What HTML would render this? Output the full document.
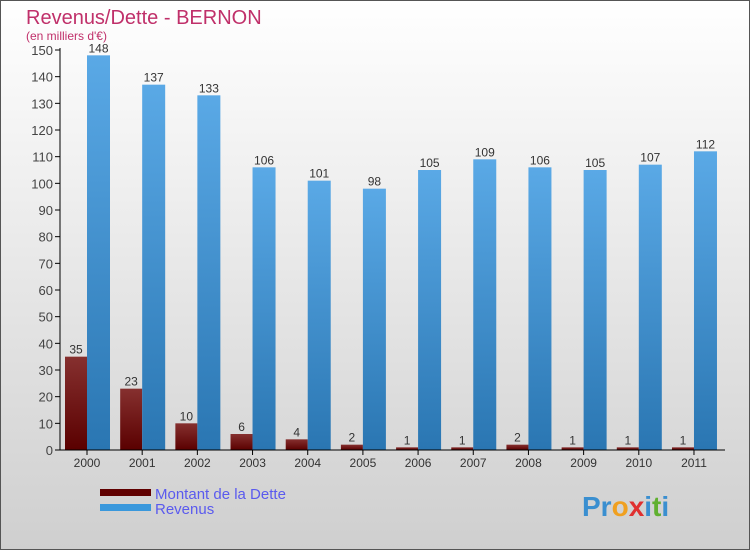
<!DOCTYPE html>
<html><head><meta charset="utf-8"><style>
html,body{margin:0;padding:0;}
body{width:750px;height:550px;overflow:hidden;font-family:"Liberation Sans",sans-serif;}
</style></head><body>
<svg width="750" height="550" xmlns="http://www.w3.org/2000/svg">
<defs>
<linearGradient id="bg" x1="0" y1="0" x2="0" y2="1"><stop offset="0" stop-color="#ffffff"/><stop offset="1" stop-color="#cfcfcf"/></linearGradient>
<linearGradient id="rd" x1="0" y1="0" x2="0" y2="1"><stop offset="0" stop-color="#86302f"/><stop offset="1" stop-color="#5a0000"/></linearGradient>
<linearGradient id="bl" x1="0" y1="0" x2="0" y2="1"><stop offset="0" stop-color="#5aa9e6"/><stop offset="1" stop-color="#2a76b2"/></linearGradient>
</defs>
<rect x="0.5" y="0.5" width="749" height="549" fill="url(#bg)" stroke="#555"/>
<text x="26" y="24" font-size="20" fill="#c0306a">Revenus/Dette - BERNON</text>
<text x="26" y="40" font-size="12" fill="#c0306a">(en milliers d'€)</text>
<g id="plot"></g>
<rect x="100" y="489" width="51" height="7" fill="#600000"/>
<text x="155" y="499" font-size="15" fill="#5a5aee">Montant de la Dette</text>
<rect x="100" y="504" width="51" height="7" fill="#3a98dc"/>
<text x="155" y="514" font-size="15" fill="#5a5aee">Revenus</text>
<text x="582" y="516" font-size="28" font-weight="bold"><tspan fill="#3a8fd0">Pr</tspan><tspan fill="#f0a020">o</tspan><tspan fill="#e03030">x</tspan><tspan fill="#3a8fd0">i</tspan><tspan fill="#60b030">t</tspan><tspan fill="#3a8fd0">i</tspan></text>
</svg>
<script>
const years=["2000","2001","2002","2003","2004","2005","2006","2007","2008","2009","2010","2011"];
const dette=[35,23,10,6,4,2,1,1,2,1,1,1];
const revenus=[148,137,133,106,101,98,105,109,106,105,107,112];
const yTicks=[0,10,20,30,40,50,60,70,80,90,100,110,120,130,140,150];
const NS="http://www.w3.org/2000/svg";
const g=document.getElementById('plot');
const y=v=>450-v*400/150;
const cx=i=>87+i*55.18;
function mk(t,a,txt){const e=document.createElementNS(NS,t);for(const k in a)e.setAttribute(k,a[k]);if(txt!==undefined)e.textContent=txt;g.appendChild(e);return e;}
yTicks.forEach(v=>{
 const l=mk('line',{x1:55,x2:60,y1:y(v),y2:y(v),stroke:'#000'});
 
 
 const t=mk('text',{x:53,y:y(v)+5,'font-size':13,fill:'#444','text-anchor':'end'},v);
 
 
});
years.forEach((yr,i)=>{
 const c=cx(i);
 const d=mk('rect',{x:c-22,y:y(dette[i]),width:22,height:450-y(dette[i]),fill:'url(#rd)'});
 
 
 const r=mk('rect',{x:c,y:y(revenus[i]),width:23,height:450-y(revenus[i]),fill:'url(#bl)'});
 
 
 const dl=mk('text',{x:c-11,y:y(dette[i])-3,'font-size':12,fill:'#333','text-anchor':'middle'},dette[i]);
 
 
 const rl=mk('text',{x:c+11.5,y:y(revenus[i])-3,'font-size':12,fill:'#333','text-anchor':'middle'},revenus[i]);
 
 
 const tk=mk('line',{x1:c,x2:c,y1:450,y2:455,stroke:'#000'});
 
 
 const xl=mk('text',{x:c,y:467,'font-size':12,fill:'#333','text-anchor':'middle'},yr);
 
 
});
const ya=mk('line',{x1:60,x2:60,y1:48,y2:450,stroke:'#000'});


const xa=mk('line',{x1:60,x2:725,y1:450,y2:450,stroke:'#000'});


</script>
</body></html>
